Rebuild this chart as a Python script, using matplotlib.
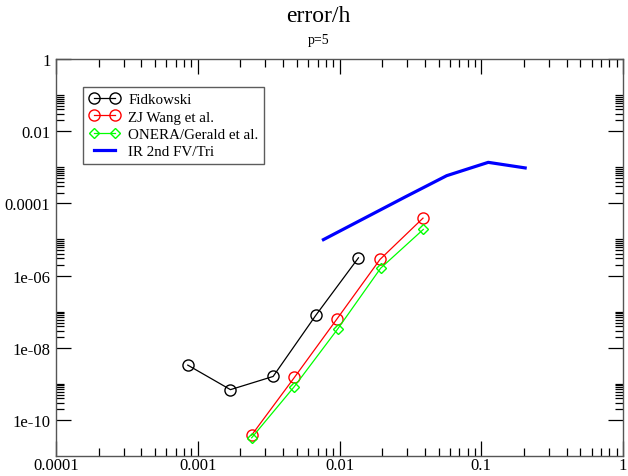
import numpy as np
import matplotlib
matplotlib.use("Agg")
import matplotlib.pyplot as plt
from matplotlib.ticker import FixedLocator, NullFormatter

plt.rcParams['font.family'] = ['Liberation Serif', 'DejaVu Serif']

# ------------------------------
# data

fid_h = [8.5e-4, 1.7e-3, 3.4e-3, 6.8e-3, 1.36e-2]
fid_err = [3.3e-9, 6.9e-10, 1.6e-9, 7.9e-8, 3.1e-6]

wang_h = [2.4e-3, 4.8e-3, 9.6e-3, 1.93e-2, 3.88e-2]
wang_err = [3.8e-11, 1.5e-9, 6.3e-8, 2.8e-6, 3.9e-5]

onera_h = [2.4e-3, 4.8e-3, 9.7e-3, 1.95e-2, 3.9e-2]
onera_err = [3.2e-11, 8.4e-10, 3.3e-8, 1.6e-6, 1.9e-5]

ir_h = [7.7e-3, 1.54e-2, 2.9e-2, 5.7e-2, 0.112, 0.204]
ir_err = [9.9e-6, 4.1e-5, 1.5e-4, 5.85e-4, 1.37e-3, 9.6e-4]

# ------------------------------

fig = plt.figure(figsize=(6.28, 4.77), dpi=100)
ax = fig.add_axes([0.0892, 0.0419, 0.9029, 0.8323])

ax.plot(fid_h, fid_err, color='black', lw=0.9, marker='o', ms=8,
        mfc='none', mec='black', mew=1.0, label='Fidkowski')
ax.plot(wang_h, wang_err, color='red', lw=0.9, marker='o', ms=8,
        mfc='none', mec='red', mew=1.0, label='ZJ Wang et al.')
ax.plot(onera_h, onera_err, color='#00ff00', lw=0.9, marker='D', ms=5.5,
        mfc='none', mec='#00ff00', mew=1.0, label='ONERA/Gerald et al.')
ax.plot(ir_h, ir_err, color='blue', lw=2.3, label='IR 2nd FV/Tri')

ax.set_xscale('log')
ax.set_yscale('log')
ax.set_xlim(1e-4, 1)
ax.set_ylim(1e-11, 1)

# x ticks: every decade, minor 2..9
ax.xaxis.set_major_locator(FixedLocator([1e-4, 1e-3, 1e-2, 1e-1, 1]))
ax.set_xticklabels(['0.0001', '0.001', '0.01', '0.1', '1'])
xminor = [k * 10.0**e for e in range(-4, 0) for k in range(2, 10)]
ax.xaxis.set_minor_locator(FixedLocator(xminor))
ax.xaxis.set_minor_formatter(NullFormatter())

# y ticks: every other decade, minor ticks in the decade above
ymaj = [1e-10, 1e-8, 1e-6, 1e-4, 1e-2, 1]
ax.yaxis.set_major_locator(FixedLocator(ymaj))
ax.set_yticklabels(['1e-10', '1e-08', '1e-06', '0.0001', '0.01', '1'])
yminor = [k * 10.0**e for e in range(-10, 0, 2) for k in range(2, 11)]
ax.yaxis.set_minor_locator(FixedLocator(yminor))
ax.yaxis.set_minor_formatter(NullFormatter())

ax.tick_params(which='both', direction='in', top=True, right=True,
               labelsize=12, color='black')
ax.tick_params(axis='x', pad=1)
ax.tick_params(axis='y', pad=4)
ax.tick_params(which='major', length=11, width=0.9)
ax.tick_params(which='minor', length=6, width=0.9)
for s in ax.spines.values():
    s.set_color('#555555')
    s.set_linewidth(1.0)

fig.text(0.507, 0.965, 'error/h', ha='center', va='center', fontsize=17)
fig.text(0.507, 0.915, 'p=5', ha='center', va='center', fontsize=10)

leg = ax.legend(loc='upper left', bbox_to_anchor=(0.048, 0.93), numpoints=2,
                fontsize=10.8, frameon=True, fancybox=False, handlelength=2.0,
                handletextpad=0.6, borderpad=0.4, labelspacing=0.25,
                borderaxespad=0.0)
leg.get_frame().set_edgecolor('#333333')
leg.get_frame().set_linewidth(1.0)

fig.savefig('out.png', dpi=100)
